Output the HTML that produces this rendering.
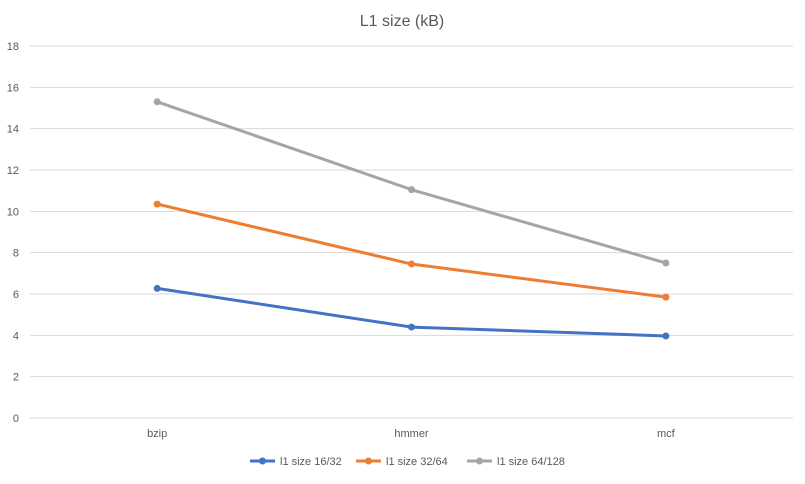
<!DOCTYPE html>
<html><head><meta charset="utf-8"><style>
body{margin:0;background:#fff;}
svg text{font-family:"Liberation Sans",sans-serif;fill:#595959;}
</style></head><body>
<svg id="chart" width="805" height="479" viewBox="0 0 805 479" xmlns="http://www.w3.org/2000/svg">
<rect width="805" height="479" fill="#fff"/>
<text x="402" y="26" text-anchor="middle" font-size="16">L1 size (kB)</text>
<g id="grid"></g><g id="yticks"></g><g id="xticks"></g><g id="series"></g><g id="legend"></g>
</svg>
<script>
const categories = ["bzip", "hmmer", "mcf"];
const yTicks = [0, 2, 4, 6, 8, 10, 12, 14, 16, 18];
const seriesNames = ["l1 size 16/32", "l1 size 32/64", "l1 size 64/128"];
const s1 = [6.27, 4.40, 3.97];
const s2 = [10.35, 7.45, 5.85];
const s3 = [15.3, 11.05, 7.5];
const colors = ["#4472C4", "#ED7D31", "#A5A5A5"];
const allSeries = [s1, s2, s3];
const NS = "http://www.w3.org/2000/svg";
const plotLeft = 30, plotRight = 793, plotTop = 46, plotBottom = 418, yMax = 18;
const yScale = v => plotBottom - (v / yMax) * (plotBottom - plotTop);
const band = (plotRight - plotLeft) / categories.length;
const xScale = i => plotLeft + band * (i + 0.5);
function mk(tag, attrs, parent) { const e = document.createElementNS(NS, tag); for (const k in attrs) e.setAttribute(k, attrs[k]); parent.appendChild(e); return e; }
const gridG = document.getElementById('grid'), ytG = document.getElementById('yticks'), xtG = document.getElementById('xticks'), sG = document.getElementById('series'), lgG = document.getElementById('legend');
yTicks.forEach(t => {
  const l = mk('line', {x1: plotLeft, x2: plotRight, y1: yScale(t), y2: yScale(t), stroke: '#d9d9d9', 'stroke-width': 1}, gridG);
  
  
  const tx = mk('text', {x: 19, y: yScale(t) + 4, 'text-anchor': 'end', 'font-size': 11}, ytG);
  tx.textContent = t;
  
  
});
categories.forEach((c, i) => {
  const tx = mk('text', {x: xScale(i), y: 437, 'text-anchor': 'middle', 'font-size': 11}, xtG);
  tx.textContent = c;
  
  
});
allSeries.forEach((s, si) => {
  const g = mk('g', {}, sG);
  
  
  const p = mk('polyline', {points: s.map((v, i) => xScale(i) + ',' + yScale(v)).join(' '), fill: 'none', stroke: colors[si], 'stroke-width': 3, 'stroke-linejoin': 'round', 'stroke-linecap': 'round'}, g);
  
  
  s.forEach((v, i) => {
    const c = mk('circle', {cx: xScale(i), cy: yScale(v), r: 3.5, fill: colors[si]}, g);
    
    
  });
});
const legendX = [250, 356, 467];
seriesNames.forEach((n, i) => {
  const g = mk('g', {}, lgG);
  
  
  mk('line', {x1: legendX[i], x2: legendX[i] + 25, y1: 461, y2: 461, stroke: colors[i], 'stroke-width': 3}, g);
  mk('circle', {cx: legendX[i] + 12.5, cy: 461, r: 3.5, fill: colors[i]}, g);
  const t = mk('text', {x: legendX[i] + 30, y: 465, 'font-size': 11}, g);
  t.textContent = n;
});
</script>
</body></html>
